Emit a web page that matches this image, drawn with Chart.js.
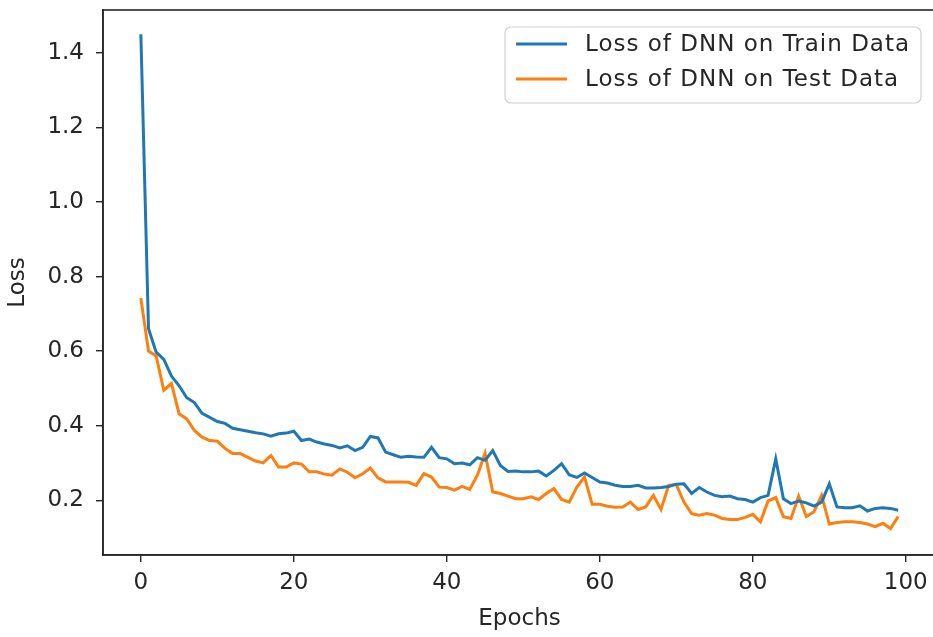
<!DOCTYPE html>
<html>
<head>
<meta charset="utf-8">
<script src="https://cdn.jsdelivr.net/npm/chart.js@4.4.1/dist/chart.umd.min.js"></script>
<style>
  html, body { margin: 0; padding: 0; background: #fff; overflow: hidden; }
  #wrap { width: 945px; height: 637px; }
</style>
</head>
<body>
<div id="wrap"><canvas id="lossChart" width="945" height="637"></canvas></div>
<script>
// values
const epochs = Array.from({ length: 100 }, (_, i) => i);

const trainLoss = [
  1.45, 0.66, 0.597, 0.578, 0.533, 0.507, 0.475, 0.462, 0.433, 0.422,
  0.411, 0.406, 0.393, 0.389, 0.385, 0.381, 0.378, 0.372, 0.378, 0.38,
  0.385, 0.36, 0.364, 0.356, 0.351, 0.347, 0.34, 0.346, 0.333, 0.342,
  0.371, 0.367, 0.329, 0.322, 0.315, 0.318, 0.316, 0.315, 0.342, 0.314,
  0.311, 0.298, 0.3, 0.295, 0.314, 0.307, 0.333, 0.293, 0.277, 0.278,
  0.276, 0.276, 0.278, 0.265, 0.28, 0.298, 0.268, 0.261, 0.273, 0.261,
  0.249, 0.246, 0.24, 0.237, 0.237, 0.24, 0.233, 0.233, 0.234, 0.237,
  0.243, 0.244, 0.218, 0.234, 0.222, 0.213, 0.209, 0.211, 0.204, 0.202,
  0.195, 0.207, 0.213, 0.311, 0.204, 0.191, 0.198, 0.193, 0.184, 0.195,
  0.244, 0.182, 0.18, 0.18, 0.185, 0.171, 0.178, 0.18, 0.178, 0.173
];

const testLoss = [
  0.742, 0.60, 0.587, 0.495, 0.513, 0.432, 0.418, 0.387, 0.369, 0.36,
  0.358, 0.339, 0.325, 0.325, 0.315, 0.305, 0.30, 0.32, 0.289, 0.289,
  0.30, 0.297, 0.276, 0.276, 0.27, 0.267, 0.284, 0.275, 0.26, 0.271,
  0.286, 0.26, 0.249, 0.249, 0.249, 0.248, 0.24, 0.271, 0.262, 0.235,
  0.234, 0.227, 0.237, 0.229, 0.267, 0.326, 0.222, 0.218, 0.211, 0.204,
  0.204, 0.209, 0.202, 0.218, 0.231, 0.202, 0.195, 0.235, 0.262, 0.189,
  0.189, 0.184, 0.181, 0.182, 0.195, 0.175, 0.182, 0.213, 0.175, 0.24,
  0.242, 0.195, 0.164, 0.16, 0.164, 0.16, 0.151, 0.148, 0.148, 0.154,
  0.162, 0.142, 0.198, 0.207, 0.156, 0.151, 0.211, 0.156, 0.169, 0.213,
  0.136, 0.14, 0.142, 0.142, 0.14, 0.136, 0.129, 0.138, 0.124, 0.156
];

const seriesLabels = ['Loss of DNN on Train Data', 'Loss of DNN on Test Data'];
const seriesColors = ['#1f77b4', '#ff7f0e'];
const xTickValues = [0, 20, 40, 60, 80, 100];
const yTickValues = [0.2, 0.4, 0.6, 0.8, 1.0, 1.2, 1.4];

const FONT = "'DejaVu Sans', sans-serif";
const FSIZE = 23;
const TEXT = '#262626';

// frame around the plot + matplotlib style legend
const framePlugin = {
  id: 'frame',
  afterDraw(chart) {
    const { ctx, chartArea: a } = chart;
    ctx.save();
    ctx.strokeStyle = '#262626';
    ctx.lineWidth = 1.6;
    ctx.strokeRect(a.left, a.top, a.right - a.left, a.bottom - a.top);

    // legend box
    const bx = 505, by = 27, bw = 416, bh = 76, r = 6;
    ctx.beginPath();
    ctx.moveTo(bx + r, by);
    ctx.arcTo(bx + bw, by, bx + bw, by + bh, r);
    ctx.arcTo(bx + bw, by + bh, bx, by + bh, r);
    ctx.arcTo(bx, by + bh, bx, by, r);
    ctx.arcTo(bx, by, bx + bw, by, r);
    ctx.closePath();
    ctx.fillStyle = 'rgba(255,255,255,0.8)';
    ctx.fill();
    ctx.strokeStyle = '#d0d0d0';
    ctx.lineWidth = 1.2;
    ctx.stroke();

    ctx.font = FSIZE + 'px ' + FONT;
    ctx.letterSpacing = '1px';
    ctx.textBaseline = 'middle';
    chart.data.datasets.forEach((ds, i) => {
      const y = 44 + i * 35;
      ctx.beginPath();
      ctx.moveTo(516, y);
      ctx.lineTo(567, y);
      ctx.strokeStyle = ds.borderColor;
      ctx.lineWidth = 3;
      ctx.stroke();
      ctx.fillStyle = TEXT;
      ctx.fillText(ds.label, 585, y + 1);
    });
    ctx.restore();
  }
};

new Chart(document.getElementById('lossChart'), {
  type: 'line',
  data: {
    labels: epochs,
    datasets: [
      {
        label: seriesLabels[0],
        data: trainLoss.map((v, i) => ({ x: epochs[i], y: v })),
        borderColor: seriesColors[0],
        borderWidth: 3,
        pointRadius: 0,
        tension: 0,
        fill: false
      },
      {
        label: seriesLabels[1],
        data: testLoss.map((v, i) => ({ x: epochs[i], y: v })),
        borderColor: seriesColors[1],
        borderWidth: 3,
        pointRadius: 0,
        tension: 0,
        fill: false
      }
    ]
  },
  options: {
    responsive: false,
    animation: false,
    layout: { padding: { top: 10, right: 9, left: 0, bottom: 0 } },
    plugins: {
      legend: { display: false },
      tooltip: { enabled: false }
    },
    scales: {
      x: {
        type: 'linear',
        min: -4.95,
        max: 103.95,
        afterBuildTicks: s => { s.ticks = xTickValues.map(v => ({ value: v })); },
        afterFit: s => { s.height = 82; s.paddingLeft = 0; s.paddingRight = 0; },
        grid: { drawOnChartArea: false, drawTicks: true, tickLength: 7, color: '#262626', lineWidth: 1.4 },
        border: { display: true, color: '#262626', width: 1.6 },
        ticks: { color: TEXT, font: { family: FONT, size: FSIZE }, padding: 7, maxRotation: 0 },
        title: { display: true, text: 'Epochs', color: TEXT, font: { family: FONT, size: FSIZE }, padding: { top: 0 } }
      },
      y: {
        type: 'linear',
        min: 0.053,
        max: 1.515,
        afterBuildTicks: s => { s.ticks = yTickValues.map(v => ({ value: v })); },
        afterFit: s => { s.width = 103; s.paddingTop = 0; s.paddingBottom = 0; },
        grid: { drawOnChartArea: false, drawTicks: true, tickLength: 7, color: '#262626', lineWidth: 1.4 },
        border: { display: true, color: '#262626', width: 1.6 },
        ticks: { color: TEXT, font: { family: FONT, size: FSIZE }, padding: 12, callback: v => v.toFixed(1) },
        title: { display: true, text: 'Loss', color: TEXT, font: { family: FONT, size: FSIZE }, padding: { bottom: 2 } }
      }
    }
  },
  plugins: [framePlugin]
});
</script>
</body>
</html>
